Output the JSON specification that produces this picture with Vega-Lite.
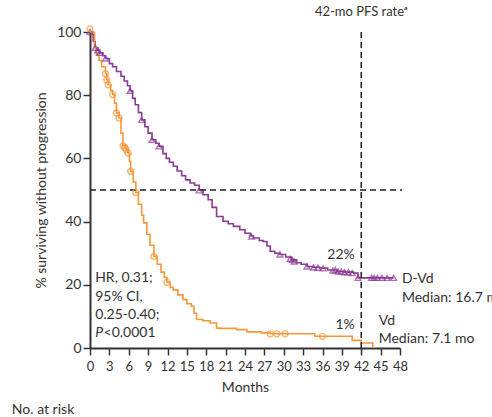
{
  "$schema": "https://vega.github.io/schema/vega-lite/v6.json",
  "width": 310,
  "height": 316,
  "autosize": "none",
  "padding": {"left": 90, "top": 32, "right": 92, "bottom": 69},
  "config": {
    "view": {"stroke": null},
    "font": "Lato",
    "text": {"font": "Lato", "fontSize": 14, "color": "#333333"},
    "axis": {
      "grid": false,
      "domainColor": "#333333",
      "domainWidth": 2,
      "tickColor": "#333333",
      "tickWidth": 1.5,
      "tickSize": 7,
      "labelFont": "Lato",
      "labelFontSize": 14,
      "labelColor": "#333333",
      "titleFont": "Lato",
      "titleFontSize": 14,
      "titleFontWeight": "normal",
      "titleColor": "#333333"
    }
  },
  "datasets": {
    "curves": [
      {"arm": "D-Vd", "month": 0, "pct": 100},
      {"arm": "D-Vd", "month": 0.5, "pct": 97},
      {"arm": "D-Vd", "month": 0.8, "pct": 95},
      {"arm": "D-Vd", "month": 1.2, "pct": 94.2},
      {"arm": "D-Vd", "month": 1.5, "pct": 93.4},
      {"arm": "D-Vd", "month": 2.0, "pct": 92.5},
      {"arm": "D-Vd", "month": 2.4, "pct": 91.6},
      {"arm": "D-Vd", "month": 3.0, "pct": 90},
      {"arm": "D-Vd", "month": 3.5, "pct": 89},
      {"arm": "D-Vd", "month": 4.1, "pct": 87.5},
      {"arm": "D-Vd", "month": 4.8, "pct": 86},
      {"arm": "D-Vd", "month": 5.3, "pct": 84.5},
      {"arm": "D-Vd", "month": 5.8, "pct": 83},
      {"arm": "D-Vd", "month": 6.2, "pct": 81.4},
      {"arm": "D-Vd", "month": 6.6, "pct": 79},
      {"arm": "D-Vd", "month": 7.0, "pct": 77},
      {"arm": "D-Vd", "month": 7.5, "pct": 74.5},
      {"arm": "D-Vd", "month": 8.0, "pct": 72.2},
      {"arm": "D-Vd", "month": 8.5, "pct": 70},
      {"arm": "D-Vd", "month": 9.0, "pct": 68},
      {"arm": "D-Vd", "month": 9.6, "pct": 65.9},
      {"arm": "D-Vd", "month": 10.2, "pct": 64.8},
      {"arm": "D-Vd", "month": 10.7, "pct": 63.8},
      {"arm": "D-Vd", "month": 11.3, "pct": 61.5},
      {"arm": "D-Vd", "month": 11.8, "pct": 60},
      {"arm": "D-Vd", "month": 12.3, "pct": 58.8},
      {"arm": "D-Vd", "month": 12.9, "pct": 57.5},
      {"arm": "D-Vd", "month": 13.5, "pct": 56},
      {"arm": "D-Vd", "month": 14.2, "pct": 54.5},
      {"arm": "D-Vd", "month": 14.8, "pct": 53.2},
      {"arm": "D-Vd", "month": 15.5, "pct": 52.2},
      {"arm": "D-Vd", "month": 16.2, "pct": 51.5},
      {"arm": "D-Vd", "month": 16.9, "pct": 49.9},
      {"arm": "D-Vd", "month": 17.5, "pct": 48.5},
      {"arm": "D-Vd", "month": 18.3, "pct": 46.9},
      {"arm": "D-Vd", "month": 18.9, "pct": 44.5},
      {"arm": "D-Vd", "month": 19.6, "pct": 41.6},
      {"arm": "D-Vd", "month": 20.6, "pct": 40.1},
      {"arm": "D-Vd", "month": 21.4, "pct": 39.3},
      {"arm": "D-Vd", "month": 22.2, "pct": 38.5},
      {"arm": "D-Vd", "month": 23.2, "pct": 37.4},
      {"arm": "D-Vd", "month": 24.0, "pct": 36.3},
      {"arm": "D-Vd", "month": 24.8, "pct": 35.5},
      {"arm": "D-Vd", "month": 25.3, "pct": 34.8},
      {"arm": "D-Vd", "month": 26.2, "pct": 34.0},
      {"arm": "D-Vd", "month": 26.8, "pct": 33.7},
      {"arm": "D-Vd", "month": 27.4, "pct": 32.3},
      {"arm": "D-Vd", "month": 27.9, "pct": 30.6},
      {"arm": "D-Vd", "month": 28.6, "pct": 30.0},
      {"arm": "D-Vd", "month": 29.4, "pct": 29.6},
      {"arm": "D-Vd", "month": 30.3, "pct": 28.8},
      {"arm": "D-Vd", "month": 31.2, "pct": 27.9},
      {"arm": "D-Vd", "month": 32.0, "pct": 27.0},
      {"arm": "D-Vd", "month": 32.7, "pct": 26.5},
      {"arm": "D-Vd", "month": 33.6, "pct": 25.8},
      {"arm": "D-Vd", "month": 34.5, "pct": 25.5},
      {"arm": "D-Vd", "month": 35.6, "pct": 25.3},
      {"arm": "D-Vd", "month": 36.8, "pct": 24.7},
      {"arm": "D-Vd", "month": 38.2, "pct": 24.2},
      {"arm": "D-Vd", "month": 39.5, "pct": 24.0},
      {"arm": "D-Vd", "month": 40.8, "pct": 23.7},
      {"arm": "D-Vd", "month": 41.5, "pct": 22.2},
      {"arm": "D-Vd", "month": 47.0, "pct": 22.2},
      {"arm": "Vd", "month": 0, "pct": 100},
      {"arm": "Vd", "month": 0.4, "pct": 99.7},
      {"arm": "Vd", "month": 0.7, "pct": 95.1},
      {"arm": "Vd", "month": 1.0, "pct": 92.8},
      {"arm": "Vd", "month": 1.4, "pct": 91},
      {"arm": "Vd", "month": 1.8, "pct": 89},
      {"arm": "Vd", "month": 2.4, "pct": 86.8},
      {"arm": "Vd", "month": 2.6, "pct": 84.9},
      {"arm": "Vd", "month": 2.8, "pct": 83.3},
      {"arm": "Vd", "month": 3.2, "pct": 81.5},
      {"arm": "Vd", "month": 3.5, "pct": 80.2},
      {"arm": "Vd", "month": 3.8, "pct": 77.5},
      {"arm": "Vd", "month": 4.1, "pct": 74.4},
      {"arm": "Vd", "month": 4.5, "pct": 72.8},
      {"arm": "Vd", "month": 4.8, "pct": 68},
      {"arm": "Vd", "month": 5.1, "pct": 64.0},
      {"arm": "Vd", "month": 5.6, "pct": 62.8},
      {"arm": "Vd", "month": 5.9, "pct": 61.7},
      {"arm": "Vd", "month": 6.1, "pct": 59},
      {"arm": "Vd", "month": 6.3, "pct": 55.9},
      {"arm": "Vd", "month": 6.7, "pct": 52.5},
      {"arm": "Vd", "month": 7.1, "pct": 49.2},
      {"arm": "Vd", "month": 7.5, "pct": 45.5},
      {"arm": "Vd", "month": 8.0, "pct": 42},
      {"arm": "Vd", "month": 8.3, "pct": 39.6},
      {"arm": "Vd", "month": 8.8, "pct": 36},
      {"arm": "Vd", "month": 9.3, "pct": 32.5},
      {"arm": "Vd", "month": 9.9, "pct": 29.0},
      {"arm": "Vd", "month": 10.4, "pct": 26.5},
      {"arm": "Vd", "month": 11.0, "pct": 24},
      {"arm": "Vd", "month": 11.5, "pct": 22.3},
      {"arm": "Vd", "month": 11.9, "pct": 20.8},
      {"arm": "Vd", "month": 12.4, "pct": 19.2},
      {"arm": "Vd", "month": 12.9, "pct": 18.4},
      {"arm": "Vd", "month": 13.6, "pct": 16.8},
      {"arm": "Vd", "month": 14.4, "pct": 15.3},
      {"arm": "Vd", "month": 15.0, "pct": 14.0},
      {"arm": "Vd", "month": 15.7, "pct": 13.2},
      {"arm": "Vd", "month": 16.1, "pct": 11},
      {"arm": "Vd", "month": 16.5, "pct": 9.0},
      {"arm": "Vd", "month": 17.5, "pct": 8.6},
      {"arm": "Vd", "month": 18.6, "pct": 7.9},
      {"arm": "Vd", "month": 19.6, "pct": 6.3},
      {"arm": "Vd", "month": 20.1, "pct": 6.2},
      {"arm": "Vd", "month": 22.7, "pct": 5.8},
      {"arm": "Vd", "month": 24.3, "pct": 5.1},
      {"arm": "Vd", "month": 26.5, "pct": 4.8},
      {"arm": "Vd", "month": 27.9, "pct": 4.5},
      {"arm": "Vd", "month": 34.8, "pct": 3.7},
      {"arm": "Vd", "month": 40.6, "pct": 2.4},
      {"arm": "Vd", "month": 42.0, "pct": 1.6},
      {"arm": "Vd", "month": 43.8, "pct": 0}
    ],
    "censored": [
      {"arm": "D-Vd", "month": 0, "pct": 100},
      {"arm": "D-Vd", "month": 0.8, "pct": 95},
      {"arm": "D-Vd", "month": 1.2, "pct": 94.2},
      {"arm": "D-Vd", "month": 1.5, "pct": 93.4},
      {"arm": "D-Vd", "month": 2.4, "pct": 91.6},
      {"arm": "D-Vd", "month": 6.2, "pct": 81.4},
      {"arm": "D-Vd", "month": 8.0, "pct": 72.2},
      {"arm": "D-Vd", "month": 9.6, "pct": 65.9},
      {"arm": "D-Vd", "month": 10.7, "pct": 63.8},
      {"arm": "D-Vd", "month": 16.9, "pct": 49.9},
      {"arm": "D-Vd", "month": 25.0, "pct": 35.3},
      {"arm": "D-Vd", "month": 29.4, "pct": 29.6},
      {"arm": "D-Vd", "month": 31.0, "pct": 28.2},
      {"arm": "D-Vd", "month": 31.3, "pct": 27.9},
      {"arm": "D-Vd", "month": 31.6, "pct": 27.4},
      {"arm": "D-Vd", "month": 33.6, "pct": 25.8},
      {"arm": "D-Vd", "month": 34.6, "pct": 25.5},
      {"arm": "D-Vd", "month": 35.3, "pct": 25.4},
      {"arm": "D-Vd", "month": 36.1, "pct": 25.2},
      {"arm": "D-Vd", "month": 37.6, "pct": 24.5},
      {"arm": "D-Vd", "month": 38.0, "pct": 24.7},
      {"arm": "D-Vd", "month": 38.4, "pct": 24.2},
      {"arm": "D-Vd", "month": 38.9, "pct": 24.2},
      {"arm": "D-Vd", "month": 39.4, "pct": 24.0},
      {"arm": "D-Vd", "month": 40.0, "pct": 24.0},
      {"arm": "D-Vd", "month": 40.6, "pct": 23.7},
      {"arm": "D-Vd", "month": 41.5, "pct": 22.2},
      {"arm": "D-Vd", "month": 43.6, "pct": 22.2},
      {"arm": "D-Vd", "month": 44.0, "pct": 22.2},
      {"arm": "D-Vd", "month": 44.5, "pct": 22.2},
      {"arm": "D-Vd", "month": 45.2, "pct": 22.2},
      {"arm": "D-Vd", "month": 46.0, "pct": 22.2},
      {"arm": "D-Vd", "month": 47.0, "pct": 22.2},
      {"arm": "Vd", "month": 0, "pct": 101},
      {"arm": "Vd", "month": 2.4, "pct": 86.8},
      {"arm": "Vd", "month": 2.6, "pct": 84.9},
      {"arm": "Vd", "month": 2.8, "pct": 83.3},
      {"arm": "Vd", "month": 3.5, "pct": 80.2},
      {"arm": "Vd", "month": 4.1, "pct": 74.4},
      {"arm": "Vd", "month": 4.5, "pct": 72.8},
      {"arm": "Vd", "month": 5.1, "pct": 64.0},
      {"arm": "Vd", "month": 5.4, "pct": 63.4},
      {"arm": "Vd", "month": 5.6, "pct": 62.8},
      {"arm": "Vd", "month": 5.9, "pct": 61.7},
      {"arm": "Vd", "month": 6.3, "pct": 55.9},
      {"arm": "Vd", "month": 7.1, "pct": 49.2},
      {"arm": "Vd", "month": 9.9, "pct": 29.0},
      {"arm": "Vd", "month": 11.9, "pct": 20.8},
      {"arm": "Vd", "month": 27.9, "pct": 4.5},
      {"arm": "Vd", "month": 28.9, "pct": 4.5},
      {"arm": "Vd", "month": 30.2, "pct": 4.5},
      {"arm": "Vd", "month": 36.0, "pct": 3.7}
    ],
    "guides": [
      {"month": 0, "month_end": 48.3, "pct": 50, "pct_end": 50},
      {"month": 42, "month_end": 42, "pct": 0, "pct_end": 100.5}
    ],
    "notesLeft": [
      {"month": 0.8, "pct": 22.2, "label": "HR, 0.31;"},
      {"month": 0.8, "pct": 16.2, "label": "95% CI,"},
      {"month": 0.8, "pct": 10.5, "label": "0.25-0.40;"},
      {"month": 2.1, "pct": 4.8, "label": "<0.0001"},
      {"month": 48.3, "pct": 21.9, "label": "D-Vd"},
      {"month": 48.3, "pct": 15.9, "label": "Median: 16.7 mo"},
      {"month": 44.7, "pct": 8.6, "label": "Vd"},
      {"month": 44.7, "pct": 2.9, "label": "Median: 7.1 mo"},
      {"month": -12.1, "pct": -19.6, "label": "No. at risk"}
    ],
    "notesItalic": [
      {"month": 0.8, "pct": 4.8, "label": "P"}
    ],
    "notesRight": [
      {"month": 41.0, "pct": 29.5, "label": "22%"},
      {"month": 41.0, "pct": 7.4, "label": "1%"}
    ],
    "header": [
      {"month": 42, "pct": 105, "label": "42-mo PFS rateᵃ"}
    ]
  },
  "encoding": {
    "x": {
      "field": "month", "type": "quantitative",
      "scale": {"domain": [0, 48], "nice": false},
      "axis": {"values": [0, 3, 6, 9, 12, 15, 18, 21, 24, 27, 30, 33, 36, 39, 42, 45, 48], "labelOverlap": false, "labelFlush": false, "title": "Months", "labelPadding": 5, "titlePadding": 7, "labelFontSize": 13}
    },
    "y": {
      "field": "pct", "type": "quantitative",
      "scale": {"domain": [0, 100], "nice": false},
      "axis": {"values": [0, 20, 40, 60, 80, 100], "labelOverlap": false, "labelFlush": false, "title": "% surviving without progression", "labelPadding": 2, "titlePadding": 8}
    }
  },
  "layer": [
    {
      "data": {"name": "curves"},
      "mark": {"type": "line", "interpolate": "step-after", "strokeWidth": 1.6, "clip": false},
      "encoding": {
        "color": {
          "field": "arm", "type": "nominal",
          "scale": {"domain": ["D-Vd", "Vd"], "range": ["#8B3A95", "#F7963A"]},
          "legend": null
        }
      }
    },
    {
      "data": {"name": "guides"},
      "mark": {"type": "rule", "strokeDash": [6, 4], "strokeWidth": 1.5, "color": "#222222", "clip": false},
      "encoding": {
        "x2": {"field": "month_end"},
        "y2": {"field": "pct_end"}
      }
    },
    {
      "data": {"name": "censored"},
      "mark": {"type": "point", "filled": false, "strokeWidth": 1.4, "size": 34, "clip": false},
      "encoding": {
        "color": {"field": "arm", "type": "nominal"},
        "shape": {
          "field": "arm", "type": "nominal",
          "scale": {"domain": ["D-Vd", "Vd"], "range": ["triangle-up", "circle"]},
          "legend": null
        }
      }
    },
    {
      "data": {"name": "header"},
      "mark": {"type": "text", "align": "center", "baseline": "alphabetic", "fontSize": 13},
      "encoding": {"text": {"field": "label"}}
    },
    {
      "data": {"name": "notesLeft"},
      "mark": {"type": "text", "align": "left", "baseline": "middle", "fontSize": 14},
      "encoding": {"text": {"field": "label"}}
    },
    {
      "data": {"name": "notesItalic"},
      "mark": {"type": "text", "align": "left", "baseline": "middle", "fontSize": 14, "fontStyle": "italic"},
      "encoding": {"text": {"field": "label"}}
    },
    {
      "data": {"name": "notesRight"},
      "mark": {"type": "text", "align": "right", "baseline": "middle", "fontSize": 14},
      "encoding": {"text": {"field": "label"}}
    }
  ]
}
